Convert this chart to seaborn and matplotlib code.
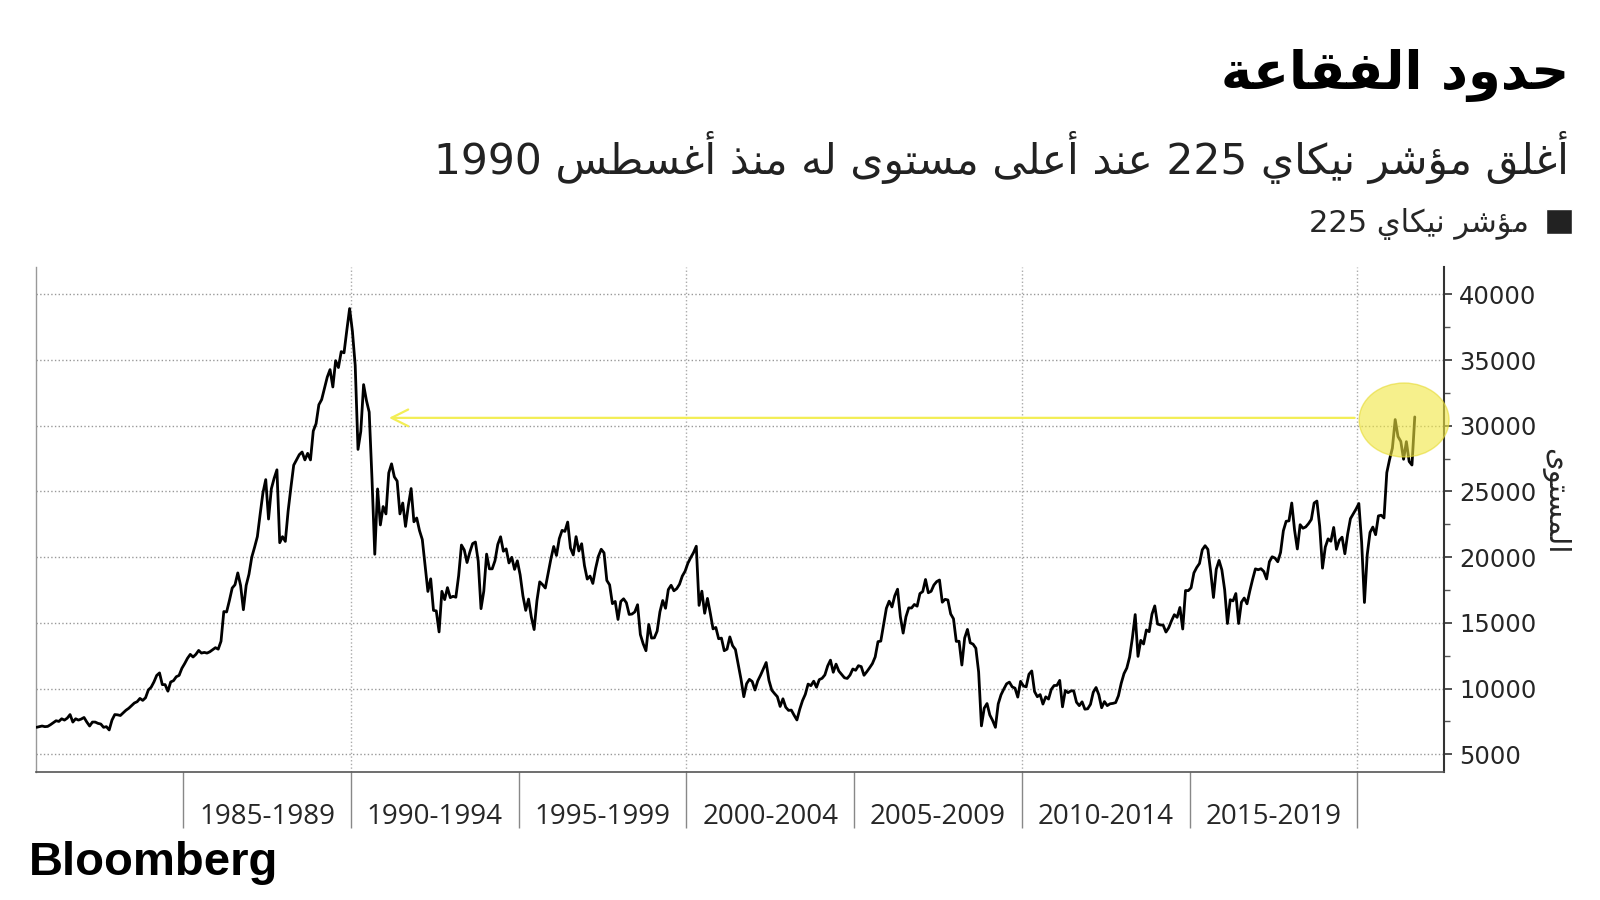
import re
import numpy as np
import pandas as pd
import matplotlib
matplotlib.use("Agg")
import matplotlib.pyplot as plt
from matplotlib.patches import Ellipse, Patch
import seaborn as sns

# نص الرسم
title_text = "حدود الفقاعة"
subtitle_text = "أغلق مؤشر نيكاي 225 عند أعلى مستوى له منذ أغسطس 1990"
legend_text = "مؤشر نيكاي 225"
ylabel_text = "المستوى"

# مؤشر نيكاي 225 - قيم شهرية تقريبية (من أغسطس 1980 حتى سبتمبر 2021)
nikkei_1980s = [
    7050, 7100, 7150, 7100, 7120,
    7250, 7400, 7550, 7500, 7700, 7600, 7750, 8020, 7450, 7700, 7600, 7680,
    7800, 7450, 7150, 7450, 7450, 7350, 7300, 7050, 7100, 6850, 7600, 8020,
    8000, 7950, 8150, 8350, 8500, 8700, 8900, 9000, 9250, 9100, 9300, 9890,
    10100, 10500, 11000, 11190, 10300, 10300, 9800, 10500, 10600, 10900, 11000, 11540,
    11900, 12300, 12600, 12400, 12600, 12900, 12700, 12750, 12700, 12800, 12950, 13110,
    13000, 13600, 15860, 15830, 16700, 17650, 17900, 18800, 17850, 16000, 17850, 18700,
    20000, 20750, 21560, 23270, 24900, 25900, 22900, 25200, 26000, 26646, 21100, 21560,
    21200, 23500, 25300, 27000, 27400, 27800, 28000, 27400, 27900, 27400, 29600, 30160,
    31600, 31990, 32840, 33700, 34270, 32950, 34950, 34430, 35640, 35550, 37270, 38916,
]
nikkei_1990s = [
    37190, 34590, 28200, 29580, 33130, 31940, 31040, 25980, 20220, 25190, 22450, 23850,
    23290, 26410, 27100, 26110, 25790, 23290, 24120, 22340, 23920, 25220, 22690, 22980,
    22020, 21340, 19350, 17390, 18350, 15950, 15910, 14310, 17400, 16770, 17680, 16920,
    17020, 16950, 18590, 20920, 20550, 19590, 20380, 21030, 21150, 19700, 16080, 17420,
    20230, 19110, 19110, 19730, 20970, 21550, 20450, 20630, 19560, 19990, 19070, 19720,
    18650, 17050, 15950, 16810, 15440, 14490, 16680, 18120, 17910, 17650, 18740, 19870,
    20810, 20130, 21410, 22040, 21960, 22670, 20690, 20170, 21560, 20470, 21020, 19360,
    18330, 18560, 18000, 19150, 20070, 20600, 20330, 18230, 17890, 16460, 16630, 15260,
    16630, 16830, 16530, 15640, 15670, 15830, 16380, 14110, 13410, 12880, 14880, 13840,
    13860, 14370, 15840, 16700, 16110, 17530, 17860, 17440, 17600, 17940, 18560, 18930,
]
nikkei_2000s = [
    19540, 19960, 20340, 20830, 16330, 17410, 15730, 16860, 15750, 14540, 14650, 13790,
    13840, 12880, 13000, 13930, 13260, 12970, 11860, 10710, 9380, 10370, 10700, 10540,
    9890, 10590, 11020, 11490, 11980, 10620, 9880, 9620, 9380, 8640, 9220, 8580,
    8340, 8360, 7970, 7610, 8420, 9080, 9560, 10340, 10220, 10560, 10100, 10680,
    10780, 11040, 11720, 12160, 11240, 11860, 11330, 11080, 10820, 10770, 11030, 11490,
    11390, 11740, 11670, 11010, 11280, 11580, 11900, 12410, 13570, 13610, 14870, 16110,
    16650, 16210, 17060, 17560, 15470, 14220, 15460, 16140, 16130, 16400, 16270, 17230,
    17380, 18300, 17290, 17400, 17880, 18140, 18260, 16570, 16790, 16740, 15680, 15310,
    13590, 13600, 11790, 13850, 14500, 13480, 13380, 13070, 11260, 7160, 8510, 8860,
    7990, 7570, 7050, 8830, 9520, 9960, 10360, 10490, 10130, 10030, 9350, 10550,
]
nikkei_2010s = [
    10200, 10130, 11090, 11340, 9770, 9380, 9540, 8820, 9370, 9200, 9940, 10230,
    10240, 10620, 8610, 9850, 9690, 9820, 9830, 8960, 8700, 8990, 8430, 8460,
    8800, 9720, 10080, 9520, 8540, 9010, 8700, 8840, 8870, 8930, 9450, 10400,
    11140, 11560, 12400, 13860, 15630, 12450, 13670, 13390, 14460, 14330, 15660, 16290,
    14910, 14840, 14830, 14300, 14630, 15160, 15620, 15420, 16170, 14530, 17460, 17450,
    17670, 18800, 19210, 19520, 20560, 20870, 20590, 18890, 16930, 19080, 19750, 19030,
    17520, 14950, 16760, 16670, 17230, 14950, 16570, 16890, 16450, 17430, 18310, 19110,
    19040, 19120, 18910, 18340, 19650, 20030, 19930, 19650, 20360, 22010, 22730, 22760,
    24120, 22070, 20620, 22470, 22200, 22300, 22550, 22870, 24120, 24270, 22350, 19160,
    20770, 21390, 21210, 22260, 20600, 21280, 21520, 20260, 21760, 22930, 23290, 23660,
]
nikkei_2020s = [
    24080, 21140, 16550, 20190, 21880, 22290, 21710, 23140, 23190, 22980, 26430, 27440,
    28300, 30470, 29180, 28810, 27450, 28790, 27280, 27010, 30670,
]

period_labels = ["1985-1989", "1990-1994", "1995-1999", "2000-2004",
                 "2005-2009", "2010-2014", "2015-2019"]

# تشكيل الحروف العربية يدويا (matplotlib لا يربط الحروف)
AR_FORMS = {
    "\u0623": (0xFE83, 0xFE84), "\u0624": (0xFE85, 0xFE86),
    "\u0627": (0xFE8D, 0xFE8E), "\u0629": (0xFE93, 0xFE94),
    "\u062A": (0xFE95, 0xFE96, 0xFE97, 0xFE98),
    "\u062D": (0xFEA1, 0xFEA2, 0xFEA3, 0xFEA4),
    "\u062F": (0xFEA9, 0xFEAA), "\u0630": (0xFEAB, 0xFEAC),
    "\u0631": (0xFEAD, 0xFEAE),
    "\u0633": (0xFEB1, 0xFEB2, 0xFEB3, 0xFEB4),
    "\u0634": (0xFEB5, 0xFEB6, 0xFEB7, 0xFEB8),
    "\u0637": (0xFEC1, 0xFEC2, 0xFEC3, 0xFEC4),
    "\u0639": (0xFEC9, 0xFECA, 0xFECB, 0xFECC),
    "\u063A": (0xFECD, 0xFECE, 0xFECF, 0xFED0),
    "\u0641": (0xFED1, 0xFED2, 0xFED3, 0xFED4),
    "\u0642": (0xFED5, 0xFED6, 0xFED7, 0xFED8),
    "\u0643": (0xFED9, 0xFEDA, 0xFEDB, 0xFEDC),
    "\u0644": (0xFEDD, 0xFEDE, 0xFEDF, 0xFEE0),
    "\u0645": (0xFEE1, 0xFEE2, 0xFEE3, 0xFEE4),
    "\u0646": (0xFEE5, 0xFEE6, 0xFEE7, 0xFEE8),
    "\u0647": (0xFEE9, 0xFEEA, 0xFEEB, 0xFEEC),
    "\u0648": (0xFEED, 0xFEEE), "\u0649": (0xFEEF, 0xFEF0),
    "\u064A": (0xFEF1, 0xFEF2, 0xFEF3, 0xFEF4),
}


def shape_ar(text):
    """يربط الحروف ويعكس الترتيب للعرض من اليمين لليسار"""
    out = []
    for i, c in enumerate(text):
        forms = AR_FORMS.get(c)
        if forms is None:
            out.append(c)
            continue
        prev = text[i - 1] if i > 0 else ""
        nxt = text[i + 1] if i + 1 < len(text) else ""
        join_prev = prev in AR_FORMS and len(AR_FORMS[prev]) == 4
        join_next = len(forms) == 4 and nxt in AR_FORMS
        if join_prev and join_next:
            k = 3
        elif join_prev:
            k = 1
        elif join_next:
            k = 2
        else:
            k = 0
        out.append(chr(forms[k]))
    vis = "".join(out)[::-1]
    return re.sub(r"[0-9]+", lambda m: m.group(0)[::-1], vis)


# تجهيز البيانات
values = nikkei_1980s + nikkei_1990s + nikkei_2000s + nikkei_2010s + nikkei_2020s
months = pd.period_range("1980-08", periods=len(values), freq="M")
df = pd.DataFrame({
    "year": months.year + (months.month - 0.5) / 12,
    "nikkei": values,
})

sns.set_theme(style="white")
plt.rcParams["font.family"] = ["DejaVu Sans"]

fig = plt.figure(figsize=(16, 9), dpi=100)
ax = fig.add_axes([36 / 1600, 1 - 772 / 900, (1444 - 36) / 1600, (772 - 267) / 900])

sns.lineplot(data=df, x="year", y="nikkei", color="black", linewidth=2.0,
             estimator=None, ax=ax, zorder=3)

ax.set_xlim(1980.61, 2022.58)
ax.set_ylim(3650, 42080)

# الشبكة
ax.set_yticks(np.arange(5000, 40001, 5000))
ax.set_yticks(np.arange(7500, 40000, 5000), minor=True)
ax.grid(axis="y", which="major", linestyle=":", color="#999999", linewidth=1)
for yr in [1990, 2000, 2010, 2020]:
    ax.axvline(yr, linestyle=":", color="#aaaaaa", linewidth=1, zorder=1)

# المحور الأفقي: فواصل الفترات والتسميات بينها
ax.set_xticks(np.arange(1985, 2021, 5))
ax.set_xticklabels([])
ax.set_xticks(np.arange(1987.5, 2018, 5), minor=True)
ax.set_xticklabels(period_labels, minor=True, fontfamily="Open Sans", fontsize=20)
ax.tick_params(axis="x", which="major", direction="out", length=40, width=1,
               color="#888888", bottom=True)
ax.tick_params(axis="x", which="minor", length=0, pad=22, bottom=True)

# المحور الرأسي على اليمين
ax.yaxis.tick_right()
ax.tick_params(axis="y", which="major", direction="out", length=6, width=1.2,
               color="#333333", labelsize=17.5, pad=5, right=True, left=False)
ax.tick_params(axis="y", which="minor", direction="out", length=4, width=1,
               color="#555555", right=True, left=False)
ax.yaxis.set_major_formatter(matplotlib.ticker.FuncFormatter(lambda v, p: f"{int(v)}"))
ax.set_xlabel("")
ax.set_ylabel(shape_ar(ylabel_text), rotation=270, fontsize=21, ha="center", va="center")
ax.yaxis.set_label_position("right")
ax.yaxis.set_label_coords((1569 - 36) / 1408, (772 - 501) / 505)

ax.spines["top"].set_visible(False)
ax.spines["left"].set_color("#999999")
ax.spines["left"].set_linewidth(1)
ax.spines["bottom"].set_color("#555555")
ax.spines["bottom"].set_linewidth(1.2)
ax.spines["right"].set_color("#333333")
ax.spines["right"].set_linewidth(1.5)

# السهم والدائرة الصفراء
ax.annotate("", xy=(1991.05, 30600), xytext=(2020.0, 30600),
            arrowprops=dict(arrowstyle="->,head_length=1.2,head_width=0.6",
                            color="#f3ee55", lw=1.6, mutation_scale=10),
            zorder=4)
ax.add_patch(Ellipse((2021.39, 30436), width=2.68, height=5630,
                     facecolor="#f0e640", edgecolor="#e6da30", alpha=0.6,
                     linewidth=1, zorder=5, clip_on=False))

# العناوين
fig.text(1569 / 1600, 1 - 75 / 900, shape_ar(title_text), ha="right", va="center",
         fontsize=38, fontweight="bold", color="black")
fig.text(1569 / 1600, 1 - 157 / 900, shape_ar(subtitle_text), ha="right", va="center",
         fontsize=30.5, color="#222222")
fig.legend(handles=[Patch(facecolor="#222222")], labels=[shape_ar(legend_text)],
           loc="center right", bbox_to_anchor=(1599 / 1600, 1 - 224 / 900),
           markerfirst=False, frameon=False, handlelength=0.85, handleheight=0.85,
           handletextpad=0.55, fontsize=22)

fig.text(29 / 1600, 1 - 875 / 900, "Bloomberg", ha="left", va="baseline",
         fontsize=34, fontweight="bold", fontfamily="Liberation Sans", color="black")

plt.savefig("out.png", dpi=100)
plt.close()
